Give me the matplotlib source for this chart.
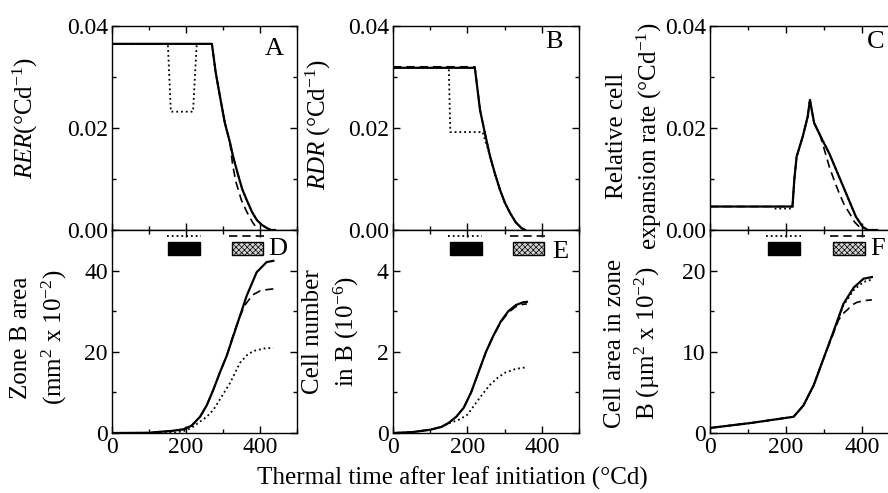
import matplotlib
matplotlib.use('Agg')
import matplotlib.pyplot as plt
from matplotlib.ticker import MultipleLocator, FixedLocator

plt.rcParams['font.family'] = ['Liberation Serif', 'DejaVu Serif']
plt.rcParams['mathtext.fontset'] = 'custom'
plt.rcParams['mathtext.rm'] = 'Liberation Serif'
plt.rcParams['mathtext.it'] = 'Liberation Serif:italic'
plt.rcParams['hatch.linewidth'] = 0.5

# ---------------- data ----------------
# Panel A: relative elongation rate
a_solid_x = [0, 270, 280, 292, 305, 319, 327, 340, 352, 364, 378, 391, 405, 418, 430, 440]
a_solid_y = [0.0365, 0.0365, 0.031, 0.0261, 0.021, 0.0171, 0.0145, 0.011, 0.008, 0.0059, 0.0036, 0.002, 0.001, 0.0004, 0.0, 0.0]
a_dash_x = [0, 270, 280, 292, 305, 319, 326, 335, 350, 364, 380, 395]
a_dash_y = [0.0365, 0.0365, 0.031, 0.0261, 0.021, 0.0171, 0.0128, 0.0094, 0.0058, 0.0036, 0.0015, 0.0]
a_dot_x = [0, 151, 159, 219, 229, 270, 280, 292, 305, 319, 327, 340, 352, 364, 378, 391, 405, 418, 430]
a_dot_y = [0.0365, 0.0365, 0.0232, 0.0232, 0.0365, 0.0365, 0.031, 0.0261, 0.021, 0.0171, 0.0145, 0.011, 0.008, 0.0059, 0.0036, 0.002, 0.001, 0.0004, 0.0]

# Panel B: relative division rate
b_solid_x = [0, 220, 234, 247, 261, 275, 288, 301, 315, 330, 345, 355]
b_solid_y = [0.0318, 0.0318, 0.0235, 0.019, 0.0144, 0.0108, 0.0078, 0.0053, 0.0033, 0.0015, 0.0004, 0.0]
b_dash_x = [0, 220, 234, 247, 261, 275, 288, 301, 315, 330, 345, 355]
b_dash_y = [0.0320, 0.0320, 0.0236, 0.019, 0.0144, 0.0108, 0.0078, 0.0053, 0.0033, 0.0015, 0.0004, 0.0]
b_dot_x = [0, 150, 154, 159, 241, 261, 275, 288, 301, 315, 330, 345, 355]
b_dot_y = [0.0318, 0.0318, 0.0192, 0.0192, 0.0192, 0.0144, 0.0108, 0.0078, 0.0053, 0.0033, 0.0015, 0.0004, 0.0]

# Panel C: relative cell expansion rate
c_solid_x = [0, 217, 222, 228, 244, 257, 263, 274, 296, 314, 336, 362, 384, 402, 415, 440]
c_solid_y = [0.0046, 0.0046, 0.010, 0.0144, 0.0183, 0.0222, 0.0255, 0.021, 0.0176, 0.015, 0.0111, 0.0065, 0.0026, 0.0006, 0.0, 0.0]
c_dash_x = [0, 217, 222, 228, 244, 257, 263, 274, 290, 300, 314, 327, 340, 353, 367, 380, 393, 402]
c_dash_y = [0.0046, 0.0046, 0.010, 0.0144, 0.0183, 0.0222, 0.0255, 0.021, 0.0185, 0.016, 0.0124, 0.0097, 0.0072, 0.005, 0.0033, 0.0016, 0.0006, 0.0]
c_dot_x = [170, 217, 222, 228, 244, 257, 263, 274, 296, 314, 336, 362, 384, 402, 415]
c_dot_y = [0.0042, 0.0042, 0.010, 0.0144, 0.0183, 0.0222, 0.0255, 0.021, 0.0176, 0.015, 0.0111, 0.0065, 0.0026, 0.0006, 0.0]

# Panel D: zone B area (mm2 x 10^-2)
d_solid_x = [0, 100, 130, 160, 193, 215, 238, 256, 274, 292, 310, 337, 364, 391, 418, 436]
d_solid_y = [0, 0.05, 0.3, 0.5, 0.9, 1.8, 4.0, 6.8, 10.7, 15.0, 19.0, 26.4, 33.8, 39.6, 42.1, 42.4]
d_dash_x = [0, 100, 130, 160, 193, 215, 238, 256, 274, 292, 310, 330, 345, 360, 380, 400, 418, 436]
d_dash_y = [0, 0.05, 0.3, 0.5, 0.9, 1.8, 4.0, 6.8, 10.7, 15.0, 19.0, 24.8, 28.6, 31.6, 34.0, 35.0, 35.3, 35.5]
d_dot_x = [0, 170, 200, 220, 256, 274, 300, 319, 346, 365, 382, 410, 436]
d_dot_y = [0, 0.1, 0.6, 1.6, 4.0, 5.7, 9.5, 12.3, 17.3, 19.2, 20.2, 20.8, 21.0]

# Panel E: cell number in zone B (10^-6)
e_solid_x = [0, 50, 100, 130, 150, 170, 190, 210, 230, 250, 270, 290, 310, 330, 350, 360]
e_solid_y = [0, 0.02, 0.08, 0.15, 0.25, 0.4, 0.62, 1.0, 1.5, 2.0, 2.4, 2.75, 3.0, 3.15, 3.22, 3.23]
e_dash_x = [0, 50, 100, 130, 150, 170, 190, 210, 230, 250, 270, 290, 310, 330, 350, 360]
e_dash_y = [0, 0.02, 0.08, 0.15, 0.25, 0.4, 0.62, 1.0, 1.5, 2.0, 2.4, 2.73, 2.97, 3.11, 3.17, 3.18]
e_dot_x = [0, 50, 100, 130, 150, 170, 180, 200, 220, 240, 260, 280, 300, 330, 360]
e_dot_y = [0, 0.02, 0.08, 0.15, 0.24, 0.3, 0.34, 0.45, 0.7, 0.95, 1.18, 1.35, 1.48, 1.58, 1.62]

# Panel F: cell area in zone B (um2 x 10^-2)
f_solid_x = [0, 110, 220, 246, 273, 299, 325, 351, 378, 404, 426]
f_solid_y = [0.62, 1.25, 2.0, 3.4, 5.9, 9.2, 12.5, 15.9, 17.9, 19.0, 19.2]
f_dash_x = [0, 110, 220, 246, 273, 299, 325, 338, 350, 362, 375, 387, 405, 426]
f_dash_y = [0.62, 1.25, 2.0, 3.4, 5.9, 9.2, 12.3, 13.9, 14.7, 15.2, 15.8, 16.1, 16.3, 16.4]
f_dot_x = [0, 110, 220, 246, 273, 299, 325, 351, 378, 404, 426]
f_dot_y = [0.62, 1.25, 2.0, 3.4, 5.9, 9.2, 12.5, 15.7, 17.6, 18.6, 18.9]

# treatment periods (thermal time, °Cd)
black_bar = (152, 238)
gray_bar = (323, 407)
dotted_span = (148, 240)
dashed_span = (315, 418)

x_ticks = [0, 200, 400]
x_tick_labels = ['0', '200', '400']

# ---------------- figure ----------------
FS = 18
TFS = 17
W, H = 888, 493
fig = plt.figure(figsize=(W / 100, H / 100), dpi=100)


def ax_at(l, r, t, b):
    return fig.add_axes([l / W, 1 - b / H, (r - l) / W, (b - t) / H])


axA = ax_at(112, 297, 26, 230)
axD = ax_at(112, 297, 230, 433)
axB = ax_at(393, 579, 26, 230)
axE = ax_at(393, 579, 230, 433)
axC = ax_at(710, 900, 26, 230)
axF = ax_at(710, 900, 230, 433)


def style(ax, ylim, ymaj, ymin, top_row, yfmt=None):
    ax.set_xlim(0, 500)
    ax.set_ylim(*ylim)
    ax.xaxis.set_major_locator(FixedLocator(x_ticks))
    ax.xaxis.set_minor_locator(MultipleLocator(100))
    ax.yaxis.set_major_locator(MultipleLocator(ymaj))
    ax.yaxis.set_minor_locator(MultipleLocator(ymin))
    ax.tick_params(which='both', direction='in', top=True, right=True,
                   labelsize=TFS, width=1, pad=3)
    ax.tick_params(which='major', length=5)
    ax.tick_params(which='minor', length=3)
    if top_row:
        ax.tick_params(labelbottom=False)
    else:
        ax.set_xticklabels(x_tick_labels)
    if yfmt:
        ax.yaxis.set_major_formatter(plt.FormatStrFormatter(yfmt))
    for s in ax.spines.values():
        s.set_linewidth(1)


def curves(ax, sx, sy, dx, dy, px, py):
    ax.plot(px, py, color='black', linestyle=':', lw=1.3, zorder=2)
    ax.plot(dx, dy, color='black', linestyle=(0, (5, 3)), lw=1.2, zorder=3)
    ax.plot(sx, sy, color='black', linestyle='-', lw=1.6, zorder=4)


def bars(ax):
    tr = ax.get_xaxis_transform()
    ax.axvspan(black_bar[0], black_bar[1], ymin=0.877, ymax=0.941,
               facecolor='black', edgecolor='black', lw=1)
    ax.axvspan(gray_bar[0], gray_bar[1], ymin=0.877, ymax=0.941,
               facecolor='#d0d0d0', edgecolor='black', hatch='xxxxxx', lw=1)
    ax.plot(dotted_span, [0.968, 0.968], color='black', linestyle=':', lw=1.3,
            transform=tr, clip_on=False)
    ax.plot(dashed_span, [0.968, 0.968], color='black', linestyle=(0, (5, 3)),
            lw=1.2, transform=tr, clip_on=False)


curves(axA, a_solid_x, a_solid_y, a_dash_x, a_dash_y, a_dot_x, a_dot_y)
curves(axB, b_solid_x, b_solid_y, b_dash_x, b_dash_y, b_dot_x, b_dot_y)
curves(axC, c_solid_x, c_solid_y, c_dash_x, c_dash_y, c_dot_x, c_dot_y)
curves(axD, d_solid_x, d_solid_y, d_dash_x, d_dash_y, d_dot_x, d_dot_y)
curves(axE, e_solid_x, e_solid_y, e_dash_x, e_dash_y, e_dot_x, e_dot_y)
curves(axF, f_solid_x, f_solid_y, f_dash_x, f_dash_y, f_dot_x, f_dot_y)

for ax in (axD, axE, axF):
    bars(ax)

style(axA, (0, 0.04), 0.02, 0.01, True, '%.2f')
style(axB, (0, 0.04), 0.02, 0.01, True, '%.2f')
style(axC, (0, 0.04), 0.02, 0.01, True, '%.2f')
style(axD, (0, 50), 20, 10, False)
style(axE, (0, 5), 2, 1, False)
style(axF, (0, 25), 10, 5, False)

# panel letters
for ax, letter, x, y in [(axA, 'A', 0.876, 0.887), (axB, 'B', 0.866, 0.92),
                         (axC, 'C', 0.87, 0.92), (axD, 'D', 0.897, 0.906),
                         (axE, 'E', 0.9, 0.89), (axF, 'F', 0.88, 0.906)]:
    ax.text(x, y, letter, transform=ax.transAxes, ha='center', va='center',
            fontsize=FS + 1)

# y labels
ylabels = [
    (axA, r'$\it{RER}$(°Cd$^{-1}$)', -0.47, 0.55),
    (axB, r'$\it{RDR}$ (°Cd$^{-1}$)', -0.40, 0.52),
    (axC, 'Relative cell\nexpansion rate (°Cd$^{-1}$)', -0.395, 0.46),
    (axD, 'Zone B area\n(mm$^2$ x 10$^{-2}$)', -0.39, 0.47),
    (axE, 'Cell number\nin B (10$^{-6}$)', -0.33, 0.50),
    (axF, 'Cell area in zone\nB (µm$^2$ x 10$^{-2}$)', -0.405, 0.44),
]
for ax, txt, x, y in ylabels:
    ax.text(x, y, txt, transform=ax.transAxes, rotation=90, ha='center',
            va='center', multialignment='center', fontsize=FS, linespacing=1.35)

fig.text(452 / W, 1 - 478 / H, 'Thermal time after leaf initiation (°Cd)',
         ha='center', va='center', fontsize=FS)

fig.savefig('out.png', dpi=100)
